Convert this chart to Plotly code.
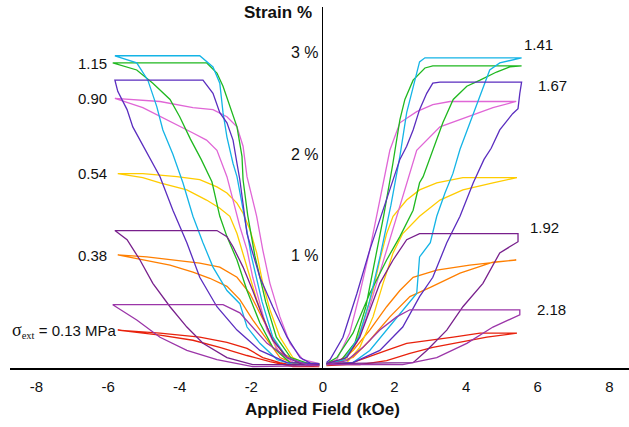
import plotly.graph_objects as go

# ---------------- data (field in kOe, strain in %) ----------------
stress_labels = ["0.13", "0.38", "0.54", "0.90", "1.15", "1.41", "1.67", "1.92", "2.18"]
colors = ["#E8210C", "#FF7F00", "#FFCC00", "#E066D6", "#1FB81F", "#14B4E6", "#5A2DBF", "#78208C", "#9B35A8"]

# each loop: increasing-|H| branch followed by decreasing-|H| branch
x_013_pos = [0.1, 1.03, 1.78, 2.43, 3.07, 3.83, 4.58, 5.42, 4.39, 3.64, 3.0, 2.34, 1.78, 1.22, 0.67, 0.1]
y_013_pos = [-0.07, -0.07, -0.03, 0.04, 0.1, 0.15, 0.2, 0.24, 0.24, 0.2, 0.17, 0.14, 0.07, 0.0, -0.07, -0.08]
x_013_neg = [-0.1, -0.84, -1.48, -2.12, -2.88, -3.63, -4.55, -5.73, -4.55, -3.44, -2.68, -2.12, -1.68, -1.2, -0.64, -0.1]
y_013_neg = [-0.08, -0.09, -0.04, 0.02, 0.1, 0.17, 0.22, 0.27, 0.24, 0.2, 0.15, 0.09, 0.0, -0.05, -0.09, -0.09]

x_038_pos = [0.1, 0.84, 1.31, 1.87, 2.43, 3.0, 3.83, 4.75, 5.4, 4.1, 3.18, 2.52, 2.15, 1.78, 1.31, 0.84, 0.39, 0.1]
y_038_pos = [-0.07, 0.0, 0.17, 0.4, 0.6, 0.69, 0.83, 0.94, 0.96, 0.91, 0.86, 0.79, 0.66, 0.5, 0.27, 0.07, -0.05, -0.07]
x_038_neg = [-0.1, -0.73, -1.2, -1.56, -1.96, -2.32, -2.68, -3.16, -3.63, -4.27, -5.03, -5.73,
             -4.92, -4.08, -3.44, -2.88, -2.4, -2.04, -1.76, -1.48, -1.12, -0.64, -0.1]
y_038_neg = [-0.07, -0.07, 0.0, 0.17, 0.37, 0.57, 0.7, 0.78, 0.84, 0.91, 0.96, 1.01,
             0.99, 0.96, 0.93, 0.89, 0.79, 0.63, 0.43, 0.24, 0.04, -0.05, -0.07]

x_054_pos = [0.1, 0.67, 1.03, 1.4, 1.68, 1.96, 2.23, 2.7, 3.27, 3.91, 4.75, 5.42,
             4.39, 3.91, 3.18, 2.7, 2.34, 1.96, 1.78, 1.59, 1.4, 1.12, 0.84, 0.47, 0.1]
y_054_pos = [-0.07, -0.05, 0.1, 0.4, 0.73, 1.03, 1.22, 1.39, 1.55, 1.65, 1.72, 1.77,
             1.77, 1.77, 1.72, 1.65, 1.55, 1.39, 1.22, 0.96, 0.66, 0.34, 0.07, -0.05, -0.07]
x_054_neg = [-0.1, -0.92, -1.28, -1.56, -1.85, -2.04, -2.23, -2.4, -2.6, -2.88, -3.25, -3.8, -4.55, -5.03, -5.73,
             -5.03, -4.08, -3.44, -2.96, -2.68, -2.4, -2.23, -2.04, -1.85, -1.68, -1.48, -1.2, -0.84, -0.45, -0.1]
y_054_neg = [-0.06, -0.05, 0.07, 0.3, 0.57, 0.79, 1.03, 1.22, 1.39, 1.47, 1.55, 1.65, 1.72, 1.77, 1.81,
             1.81, 1.78, 1.75, 1.68, 1.62, 1.52, 1.42, 1.26, 1.03, 0.73, 0.47, 0.2, 0.0, -0.07, -0.07]

x_090_pos = [0.1, 0.56, 0.95, 1.22, 1.5, 1.78, 2.06, 2.34, 2.62, 3.27, 4.02, 4.75, 5.4,
             3.55, 3.07, 2.62, 2.15, 1.87, 1.59, 1.31, 1.03, 0.75, 0.39, 0.1]
y_090_pos = [-0.06, -0.02, 0.15, 0.4, 0.73, 1.06, 1.39, 1.72, 2.04, 2.27, 2.37, 2.46, 2.52,
             2.52, 2.49, 2.42, 2.31, 2.04, 1.55, 1.06, 0.63, 0.24, -0.02, -0.06]
x_090_neg = [-0.1, -0.73, -1.2, -1.56, -1.76, -1.96, -2.12, -2.32, -2.51, -2.68, -2.96, -3.25, -3.63, -4.08, -4.55, -5.03, -5.81,
             -4.55, -3.63, -3.07, -2.68, -2.4, -2.23, -2.12, -1.85, -1.68, -1.48, -1.2, -0.92, -0.56, -0.1]
y_090_neg = [-0.07, -0.07, 0.04, 0.27, 0.53, 0.79, 1.06, 1.29, 1.55, 1.78, 2.04, 2.14, 2.21, 2.29, 2.37, 2.46, 2.55,
             2.52, 2.46, 2.44, 2.37, 2.27, 2.08, 1.78, 1.39, 1.06, 0.73, 0.4, 0.14, -0.02, -0.06]

x_115_pos = [0.1, 0.39, 0.84, 1.31, 1.78, 2.15, 2.52, 2.7, 2.8, 3.07, 3.35, 3.64, 4.02, 4.39, 4.85, 5.22, 5.55,
             3.07, 2.85, 2.52, 2.29, 2.15, 1.95, 1.7, 1.45, 1.2, 0.9, 0.5, 0.1]
y_115_pos = [-0.06, 0.0, 0.24, 0.63, 0.96, 1.19, 1.45, 1.72, 1.78, 2.04, 2.31, 2.54, 2.67, 2.73, 2.81, 2.86, 2.87,
             2.87, 2.85, 2.73, 2.54, 2.34, 1.9, 1.4, 0.95, 0.5, 0.15, -0.03, -0.06]
x_115_neg = [-0.1, -0.92, -1.4, -1.76, -2.12, -2.4, -2.68, -2.88, -3.1, -3.4, -3.7, -4.0, -4.27, -4.75, -5.2, -5.87,
             -3.25, -2.96, -2.79, -2.6, -2.4, -2.26, -2.23, -2.1, -1.9, -1.6, -1.3, -0.9, -0.4, -0.1]
y_115_neg = [-0.06, -0.05, 0.1, 0.34, 0.66, 0.96, 1.19, 1.39, 1.73, 1.95, 2.15, 2.37, 2.54, 2.7, 2.83, 2.9,
             2.9, 2.8, 2.67, 2.47, 2.27, 1.98, 1.75, 1.4, 1.0, 0.55, 0.2, 0.0, -0.06, -0.06]

x_141_pos = [0.1, 0.84, 1.31, 1.78, 2.23, 2.62, 2.7, 3.0, 3.18, 3.41, 3.63, 3.83, 4.33, 4.66, 4.94, 5.55,
             2.85, 2.7, 2.62, 2.34, 2.15, 1.9, 1.6, 1.3, 1.0, 0.6, 0.1]
y_141_pos = [-0.07, -0.05, 0.07, 0.27, 0.47, 0.63, 0.99, 1.13, 1.39, 1.62, 1.81, 2.05, 2.52, 2.83, 2.9, 2.95,
             2.95, 2.91, 2.8, 2.41, 1.98, 1.5, 1.0, 0.55, 0.2, -0.02, -0.06]
x_141_neg = [-0.1, -0.84, -1.28, -1.76, -2.12, -2.32, -2.68, -3.07, -3.35, -3.63, -3.91, -4.19, -4.47, -4.64, -4.89, -5.2, -5.81,
             -3.44, -3.07, -2.88, -2.79, -2.68, -2.51, -2.4, -2.2, -2.0, -1.7, -1.4, -1.0, -0.5, -0.1]
y_141_neg = [-0.07, -0.07, -0.02, 0.14, 0.3, 0.53, 0.66, 0.89, 1.13, 1.39, 1.72, 2.0, 2.24, 2.47, 2.73, 2.9, 2.97,
             2.97, 2.86, 2.7, 2.41, 2.17, 1.91, 1.78, 1.4, 1.0, 0.55, 0.2, 0.0, -0.06, -0.07]

x_167_pos = [0.1, 0.84, 1.59, 2.23, 2.7, 3.07, 3.46, 3.83, 4.2, 4.5, 4.7, 4.94, 5.3, 5.45, 5.5, 5.55,
             3.27, 3.07, 2.9, 2.7, 2.52, 2.34, 2.15, 1.78, 1.31, 0.95, 0.56, 0.2, 0.1]
y_167_pos = [-0.06, -0.05, 0.07, 0.3, 0.6, 0.79, 1.13, 1.39, 1.72, 1.95, 2.06, 2.24, 2.4, 2.45, 2.6, 2.71,
             2.71, 2.7, 2.6, 2.44, 2.24, 2.08, 1.95, 1.55, 1.06, 0.63, 0.2, -0.02, -0.05]
x_167_neg = [-0.1, -1.0, -1.76, -2.4, -2.96, -3.44, -3.8, -4.19, -4.55, -4.89, -5.06, -5.31, -5.47, -5.73, -5.81,
             -3.35, -3.07, -2.88, -2.68, -2.51, -2.4, -2.32, -2.12, -1.76, -1.4, -1.0, -0.64, -0.28, -0.1]
y_167_neg = [-0.06, -0.05, 0.07, 0.27, 0.5, 0.79, 1.13, 1.45, 1.78, 2.0, 2.11, 2.27, 2.44, 2.62, 2.73,
             2.73, 2.6, 2.41, 2.31, 2.14, 1.91, 1.75, 1.22, 0.79, 0.5, 0.2, 0.0, -0.07, -0.07]

x_192_pos = [0.1, 2.52, 2.9, 3.46, 3.91, 4.47, 4.94, 5.45, 5.45,
             2.7, 2.34, 1.96, 1.59, 1.31, 1.03, 0.67, 0.1]
y_192_pos = [-0.06, -0.05, 0.07, 0.27, 0.5, 0.73, 1.03, 1.14, 1.22,
             1.22, 1.16, 0.96, 0.73, 0.47, 0.2, 0.0, -0.06]
x_192_neg = [-0.1, -1.96, -2.68, -3.35, -3.8, -4.27, -4.75, -5.11, -5.47, -5.81,
             -2.96, -2.68, -2.51, -2.23, -1.96, -1.68, -1.4, -1.0, -0.56, -0.1]
y_192_neg = [-0.07, -0.07, 0.0, 0.14, 0.3, 0.5, 0.73, 0.96, 1.16, 1.25,
             1.25, 1.19, 1.09, 0.89, 0.66, 0.4, 0.17, 0.0, -0.07, -0.07]

x_218_pos = [0.1, 2.23, 3.18, 4.02, 4.75, 5.5, 5.5, 2.43, 2.06, 1.59, 1.12, 0.67, 0.1]
y_218_pos = [-0.07, -0.07, 0.0, 0.14, 0.3, 0.42, 0.47, 0.47, 0.4, 0.27, 0.1, -0.03, -0.07]
x_218_neg = [-0.1, -1.96, -2.96, -3.8, -4.55, -5.2, -5.87, -2.79, -2.32, -1.96, -1.56, -1.0, -0.45, -0.1]
y_218_neg = [-0.08, -0.09, -0.02, 0.07, 0.2, 0.37, 0.52, 0.52, 0.44, 0.3, 0.14, 0.0, -0.07, -0.08]

x_ticks = [-8, -6, -4, -2, 0, 2, 4, 6, 8]
x_tick_text = ["-8", "-6", "-4", "-2", "0", "2", "4", "6", "8"]
y_ticks = [1, 2, 3]
y_tick_text = ["1 %", "2 %", "3 %"]

# label positions (data units)
left_labels = ["1.15", "0.90", "0.54", "0.38"]
left_label_y = [2.89, 2.55, 1.81, 1.0]
right_labels = ["1.41", "1.67", "1.92", "2.18"]
right_label_x = [5.56, 5.95, 5.73, 5.92]
right_label_y = [3.08, 2.68, 1.28, 0.47]

loops = [
    (x_013_pos, y_013_pos, x_013_neg, y_013_neg),
    (x_038_pos, y_038_pos, x_038_neg, y_038_neg),
    (x_054_pos, y_054_pos, x_054_neg, y_054_neg),
    (x_090_pos, y_090_pos, x_090_neg, y_090_neg),
    (x_115_pos, y_115_pos, x_115_neg, y_115_neg),
    (x_141_pos, y_141_pos, x_141_neg, y_141_neg),
    (x_167_pos, y_167_pos, x_167_neg, y_167_neg),
    (x_192_pos, y_192_pos, x_192_neg, y_192_neg),
    (x_218_pos, y_218_pos, x_218_neg, y_218_neg),
]

FONT = "Liberation Sans, Arial, sans-serif"
fig = go.Figure()
for (xp, yp, xn, yn), col, lab in zip(loops, colors, stress_labels):
    for xs, ys in ((xp, yp), (xn, yn)):
        fig.add_trace(go.Scatter(x=xs, y=ys, mode="lines", name=lab,
                                 line=dict(color=col, width=1.3), hoverinfo="skip"))

ann = []
for t, y in zip(y_ticks, y_tick_text):
    ann.append(dict(x=0, y=t, xref="x", yref="y", text=y, showarrow=False,
                    xanchor="right", yanchor="middle", xshift=-2, font=dict(size=16, color="#111")))
for t, y in zip(left_labels, left_label_y):
    ann.append(dict(x=-5.98, y=y, xref="x", yref="y", text=t, showarrow=False,
                    xanchor="right", yanchor="middle", font=dict(size=15, color="#111")))
for t, x, y in zip(right_labels, right_label_x, right_label_y):
    ann.append(dict(x=x, y=y, xref="x", yref="y", text=t, showarrow=False,
                    xanchor="left", yanchor="middle", font=dict(size=15, color="#111")))
ann.append(dict(x=-5.73, y=0.27, xref="x", yref="y",
                text="<span style='font-family:Liberation Serif,Times New Roman,serif;font-size:18px'>σ</span>"
                     "<span style='font-family:Liberation Serif,Times New Roman,serif'><sub>ext</sub></span> = 0.13 MPa",
                showarrow=False, xanchor="right", yanchor="middle", font=dict(size=15, color="#111")))
ann.append(dict(x=0, y=0.986, xref="x", yref="paper", text="<b>Strain %</b>", showarrow=False,
                xanchor="right", yanchor="middle", xshift=-9, font=dict(size=17, color="#111")))
ann.append(dict(x=0, y=-0.116, xref="x", yref="paper", text="<b>Applied Field (kOe)</b>", showarrow=False,
                xanchor="center", yanchor="middle", font=dict(size=17, color="#111")))

fig.update_layout(
    width=629, height=427,
    margin=dict(l=10, r=0, t=7, b=59),
    paper_bgcolor="white", plot_bgcolor="white",
    showlegend=False,
    font=dict(family=FONT, color="#111"),
    annotations=ann,
    xaxis=dict(range=[-8.74, 8.55], tickvals=x_ticks, ticktext=x_tick_text, showgrid=False,
               showline=True, linecolor="black", linewidth=1.5, ticks="", ticklabelstandoff=4,
               zeroline=True, zerolinecolor="black", zerolinewidth=1.3,
               tickfont=dict(size=15, family=FONT, color="#111")),
    yaxis=dict(range=[-0.103, 3.45], showgrid=False, zeroline=False,
               showline=False, showticklabels=False, ticks=""),
)

fig.write_html("out.html")
